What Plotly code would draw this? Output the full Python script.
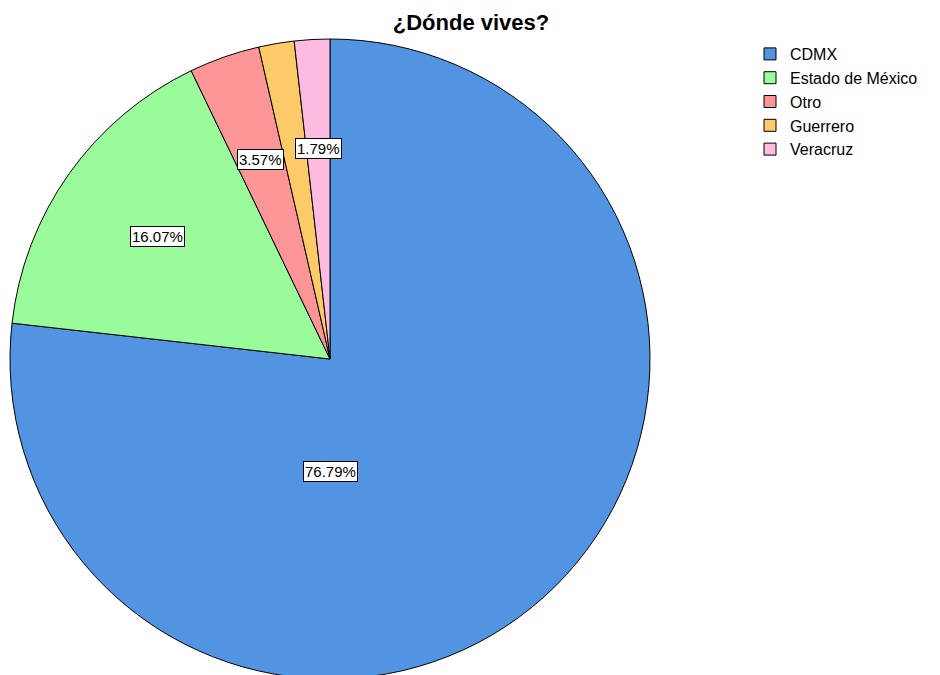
import math
import plotly.graph_objects as go

categories = ["CDMX", "Estado de México", "Otro", "Guerrero", "Veracruz"]
counts = [43, 9, 2, 1, 1]
colors = ["#5294E2", "#99FB99", "#FC9696", "#FDCA68", "#FDBBE0"]
show_label = [True, True, True, False, True]

W, H = 940, 675
OFF = 8  # page body margin in the browser
cx, cy, R = 330 - OFF, 359 - OFF, 320  # pixel geometry of the pie (figure coords)

fig = go.Figure(go.Pie(
    labels=categories,
    values=counts,
    sort=False,
    direction="clockwise",
    rotation=0,
    textinfo="none",
    hoverinfo="label+percent",
    marker=dict(colors=colors, line=dict(color="#000000", width=1)),
    domain=dict(x=[(cx - R) / W, (cx + R) / W], y=[(H - cy - R) / H, (H - cy + R) / H]),
))

total = sum(counts)
start = 0.0
for i, (c, v) in enumerate(zip(categories, counts)):
    frac = v / total
    mid = (start + frac / 2) * 360
    start += frac
    if not show_label[i]:
        continue
    if frac > 0.5:
        ang, rr = 180.0, 0.35
    else:
        ang, rr = mid, 0.66
    a = math.radians(ang)
    px = cx + rr * R * math.sin(a)
    py = cy - rr * R * math.cos(a)
    fig.add_annotation(
        x=px / W, y=(H - py) / H, xref="paper", yref="paper",
        xanchor="center", yanchor="middle",
        text=f"{frac*100:.2f}%", showarrow=False,
        font=dict(family="Arial, Liberation Sans", size=15, color="#000"),
        bgcolor="#FFFFFF", bordercolor="#000000", borderwidth=1, borderpad=1,
    )

fig.update_layout(
    width=W, height=H,
    margin=dict(l=0, r=0, t=0, b=0),
    paper_bgcolor="white",
    title=dict(text="<b>¿Dónde vives?</b>", x=(471 - OFF) / W, xanchor="center",
               y=1 - (22 - OFF) / H, yanchor="middle",
               font=dict(family="Arial, Liberation Sans", size=22, color="#000")),
    legend=dict(x=(790 - OFF - 40) / W, y=1 - (37 - OFF) / H, xanchor="left", yanchor="top",
                font=dict(family="Arial, Liberation Sans", size=16, color="#000"),
                tracegroupgap=0, itemwidth=30),
    showlegend=True,
)

fig.write_html("out.html")
